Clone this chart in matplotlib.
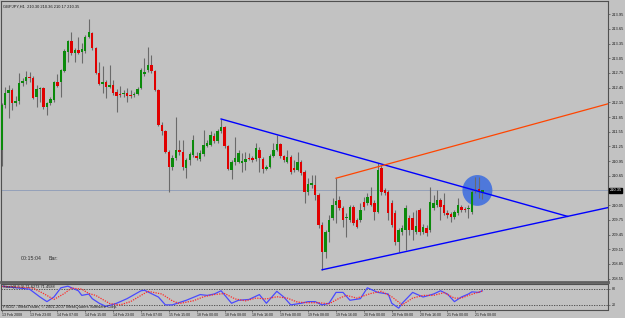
import matplotlib
matplotlib.use('Agg')
import matplotlib.pyplot as plt
from matplotlib.patches import Ellipse
import numpy as np

plt.rcParams['font.family'] = ['Liberation Sans', 'DejaVu Sans']

# GBPJPY H1, bar 0 = 13 Feb 2008 15:00
opens = [
    211.18, 212.09, 212.34, 212.40, 212.13, 212.17, 212.54, 212.58, 212.66, 212.64,
    212.26, 212.42, 212.44, 212.05, 212.13, 212.20, 212.56, 212.56, 212.79, 213.17,
    213.40, 213.15, 213.22, 213.17, 213.19, 213.48, 213.56, 213.26, 212.75, 212.52,
    212.56, 212.46, 212.50, 212.36, 212.32, 212.32, 212.34, 212.30, 212.30, 212.32,
    212.44, 212.73, 212.81, 212.91, 212.79, 212.40, 211.69, 211.56, 211.13, 210.83,
    211.01, 211.18, 211.13, 210.81, 210.97, 211.07, 211.05, 210.99, 211.09, 211.26,
    211.28, 211.46, 211.36, 211.56, 211.64, 211.26, 210.77, 210.93, 210.93, 210.91,
    210.93, 211.01, 211.01, 210.99, 211.18, 210.99, 210.79, 210.83, 211.05, 211.18,
    211.30, 211.05, 210.93, 211.03, 210.81, 210.77, 210.93, 210.73, 210.32, 210.46,
    210.46, 210.26, 209.64, 209.09, 209.50, 209.79, 210.05, 210.15, 209.99, 209.79,
    209.75, 210.01, 209.75, 209.75, 210.11, 210.09, 210.24, 210.09, 209.91, 210.81,
    210.36, 210.32, 210.09, 209.89, 209.30, 209.50, 209.54, 209.79, 209.79, 209.50,
    209.95, 209.50, 209.58, 209.54, 209.99, 210.05, 210.15, 210.05, 209.89, 209.87,
    209.81, 209.89, 210.01, 209.97, 209.97, 209.91, 210.34, 210.38, 210.30,
]
highs = [
    212.13, 212.46, 212.50, 212.44, 212.28, 212.75, 212.64, 212.79, 212.77, 212.69,
    212.50, 212.46, 212.46, 212.15, 212.26, 212.58, 212.73, 212.83, 213.24, 213.42,
    213.58, 213.26, 213.48, 213.36, 213.52, 213.85, 213.58, 213.28, 212.97, 212.89,
    212.60, 212.91, 212.60, 212.42, 212.48, 212.40, 212.44, 212.40, 212.36, 212.46,
    212.85, 213.05, 213.28, 213.11, 212.81, 212.42, 211.75, 211.58, 211.18, 211.07,
    211.85, 211.38, 211.38, 211.01, 211.13, 211.48, 211.13, 211.18, 211.58, 211.38,
    211.56, 211.52, 211.60, 211.81, 211.67, 211.28, 210.97, 211.44, 211.18, 211.11,
    211.13, 211.11, 211.05, 211.32, 211.24, 211.03, 210.87, 211.09, 211.32, 211.48,
    211.32, 211.07, 211.18, 211.07, 210.97, 211.13, 210.97, 210.77, 210.60, 210.66,
    210.66, 210.30, 209.71, 209.54, 209.85, 210.20, 210.60, 210.24, 210.03, 209.89,
    210.05, 210.05, 209.79, 210.09, 210.22, 210.30, 210.42, 210.15, 210.91, 210.87,
    210.40, 210.36, 210.15, 209.95, 209.58, 209.64, 210.05, 209.85, 209.91, 209.95,
    209.99, 209.67, 209.64, 210.42, 210.26, 210.36, 210.20, 210.30, 209.95, 209.91,
    209.95, 210.20, 210.05, 210.01, 210.05, 210.36, 210.62, 210.62, 210.36,
]
lows = [
    210.85, 212.03, 211.83, 211.99, 212.07, 212.11, 212.48, 212.52, 212.56, 212.22,
    212.05, 212.15, 212.01, 211.89, 212.09, 212.15, 212.46, 212.26, 212.77, 212.97,
    213.11, 212.97, 213.13, 212.95, 213.15, 213.46, 213.22, 212.73, 212.50, 212.34,
    212.24, 212.44, 212.30, 211.95, 212.26, 212.26, 212.15, 212.24, 212.26, 212.30,
    212.42, 212.69, 212.77, 212.75, 212.38, 211.67, 211.48, 211.11, 210.32, 210.77,
    210.97, 211.07, 210.77, 210.60, 210.87, 211.03, 210.97, 210.95, 211.05, 211.24,
    211.26, 211.32, 211.32, 211.52, 211.22, 210.77, 210.58, 210.87, 210.91, 210.73,
    210.77, 210.97, 210.93, 210.95, 210.73, 210.71, 210.77, 210.81, 211.03, 211.15,
    211.01, 210.93, 210.91, 210.69, 210.73, 210.75, 210.66, 210.09, 210.26, 210.40,
    210.15, 209.58, 208.73, 208.97, 209.30, 209.75, 209.69, 209.95, 209.60, 209.40,
    209.71, 209.64, 209.58, 209.71, 209.95, 210.05, 210.03, 209.75, 209.89, 210.26,
    210.26, 209.75, 209.60, 209.24, 209.09, 209.44, 209.13, 209.44, 209.34, 209.46,
    209.44, 209.46, 209.42, 209.50, 209.95, 210.01, 209.75, 209.85, 209.79, 209.71,
    209.77, 209.85, 209.91, 209.91, 209.79, 209.87, 210.30, 210.20, 210.17,
]
closes = [
    212.09, 212.34, 212.40, 212.13, 212.17, 212.54, 212.58, 212.66, 212.64, 212.24,
    212.42, 212.44, 212.05, 212.13, 212.22, 212.56, 212.48, 212.81, 213.19, 213.40,
    213.15, 213.22, 213.15, 213.24, 213.48, 213.58, 213.26, 212.75, 212.52, 212.56,
    212.46, 212.50, 212.34, 212.28, 212.31, 212.34, 212.28, 212.28, 212.32, 212.42,
    212.81, 212.77, 212.91, 212.79, 212.40, 211.69, 211.56, 211.13, 210.83, 211.01,
    211.18, 211.13, 210.83, 210.97, 211.09, 211.38, 211.01, 211.11, 211.28, 211.32,
    211.48, 211.36, 211.56, 211.64, 211.26, 210.79, 210.93, 211.01, 211.11, 210.95,
    210.99, 211.00, 210.97, 211.22, 211.01, 210.79, 210.83, 211.05, 211.18, 211.30,
    211.05, 210.97, 211.03, 210.73, 210.77, 210.93, 210.71, 210.32, 210.48, 210.50,
    210.26, 209.64, 209.09, 209.50, 209.75, 210.05, 210.13, 209.99, 209.75, 209.81,
    210.01, 209.69, 209.60, 209.95, 210.01, 210.22, 210.05, 209.91, 210.77, 210.32,
    210.30, 209.89, 209.64, 209.30, 209.54, 209.58, 209.99, 209.54, 209.54, 209.62,
    209.50, 209.60, 209.48, 210.11, 210.09, 210.15, 210.01, 209.89, 209.85, 209.81,
    209.91, 210.05, 209.95, 209.96, 209.97, 210.32, 210.36, 210.32, 210.35,
]

# Stochastic main (%K) and signal (%D)
stoch_k_bars = [0, 2, 8, 11, 13, 15, 17, 19, 22, 23, 25, 26, 28, 30, 33, 36, 40, 41, 45, 47,
                49, 53, 57, 59, 61, 63, 66, 68, 71, 74, 76, 79, 81, 83, 86, 88, 90, 92, 94, 96,
                98, 100, 103, 105, 108, 111, 112, 114, 115, 118, 121, 124, 126, 128, 130, 132,
                134, 135, 137, 138]
stoch_k = [89, 86, 78, 49, 32, 49, 83, 89, 72, 55, 60, 43, 26, 14, 26, 43, 72, 74, 49, 20,
           20, 37, 58, 55, 60, 72, 26, 37, 40, 58, 26, 70, 49, 20, 26, 32, 32, 20, 26, 66,
           66, 37, 43, 83, 66, 60, 26, 8, 26, 66, 49, 60, 72, 60, 32, 49, 60, 68, 66, 72]
stoch_d_bars = [0, 3, 9, 12, 15, 18, 20, 23, 25, 27, 29, 31, 34, 37, 40, 42, 46, 49, 51, 55,
                58, 61, 64, 67, 70, 73, 76, 79, 82, 85, 88, 91, 94, 97, 99, 102, 106, 109, 112,
                115, 118, 121, 124, 127, 130, 132, 134, 136, 138]
stoch_d = [88, 87, 82, 62, 40, 62, 82, 78, 62, 55, 40, 25, 20, 32, 55, 70, 60, 35, 25, 35,
           50, 58, 62, 42, 35, 45, 42, 50, 45, 30, 28, 28, 24, 45, 55, 45, 62, 70, 50,
           20, 45, 55, 55, 65, 45, 45, 55, 63, 71]

# trend lines drawn on the chart (bar index, price)
upper_line_bars = [63, 162.5]
upper_line_prices = [211.81, 209.82]
lower_line_bars = [92, 174.1]
lower_line_prices = [208.73, 210.00]
orange_line_bars = [96, 174.1]
orange_line_prices = [210.60, 212.12]

price_ticks = [213.95, 213.65, 213.35, 213.05, 212.75, 212.45, 212.15, 211.85, 211.55,
               211.25, 210.95, 210.65, 210.05, 209.75, 209.45, 209.15, 208.85, 208.55]
last_price = 210.35

date_bars = [0, 8, 16, 24, 32, 40, 48, 56, 64, 72, 80, 88, 96, 104, 112, 120, 128, 136]
date_labels = ['13 Feb 2008', '13 Feb 23:00', '14 Feb 07:00', '14 Feb 15:00', '14 Feb 23:00',
               '15 Feb 07:00', '15 Feb 15:00', '18 Feb 00:00', '18 Feb 08:00', '18 Feb 16:00',
               '19 Feb 00:00', '19 Feb 08:00', '19 Feb 16:00', '20 Feb 00:00', '20 Feb 08:00',
               '20 Feb 16:00', '21 Feb 00:00', '21 Feb 08:00']

BG = '#c2c2c2'
FRAME = '#505050'
TXT = '#1a1a1a'
W, H = 625, 318

fig = plt.figure(figsize=(W / 100, H / 100), dpi=100, facecolor=BG)
ax = fig.add_axes([1 / W, 1 - 282 / H, 607 / W, 281 / H], facecolor=BG)
ax2 = fig.add_axes([1 / W, 1 - 309.5 / H, 607 / W, 25.5 / H], facecolor=BG)

o = np.array(opens)
c = np.array(closes)
x = np.arange(len(o))
up = c >= o
body_lo = np.minimum(o, c)
body_h = np.maximum(np.abs(c - o), 0.012)
colors = np.where(up, '#0b8a0b', '#e00000')

ax.axhline(last_price, color='#8d9bb8', lw=0.6, zorder=1)
ax.add_patch(Ellipse((136.6, 210.35), 8.6, 0.63, color='#3a6be0', alpha=0.85, lw=0, zorder=1.5))
ax.vlines(x, lows, highs, color='#6a6a6a', lw=0.8, zorder=2)
ax.bar(x, body_h, bottom=body_lo, width=0.7, color=colors, lw=0, zorder=3)

ax.plot(upper_line_bars, upper_line_prices, color='#0000ff', lw=1.0, zorder=4)
ax.plot(lower_line_bars, lower_line_prices, color='#0000ff', lw=1.0, zorder=4)
ax.plot(orange_line_bars, orange_line_prices, color='#ff4500', lw=0.9, zorder=4)

ax.set_xlim(-0.2, 174.1)
ax.set_ylim(208.48, 214.22)
ax.set_xticks([])
ax.yaxis.tick_right()
ax.set_yticks(price_ticks)
ax.set_yticklabels([f'{p:.2f}' for p in price_ticks])
ax.tick_params(axis='y', labelsize=2.9, length=1.5, width=0.5, pad=1.2,
               colors=FRAME, labelcolor=TXT)
ax.text(1.0025, last_price, f'{last_price:.2f}', transform=ax.get_yaxis_transform(),
        fontsize=2.9, color='white', va='center', ha='left',
        bbox=dict(boxstyle='square,pad=0.15', fc='black', ec='black'))

for s in ax.spines.values():
    s.set_color(FRAME)
    s.set_linewidth(0.8)
ax.spines['bottom'].set_linewidth(2.0)
ax.spines['bottom'].set_color('#606060')

ax.text(0.004, 0.988, 'GBPJPY,H1  210.30 210.36 210.17 210.35', transform=ax.transAxes,
        fontsize=2.9, color=TXT, va='top', ha='left')
ax.text(0.033, 0.085, '00:15:04', transform=ax.transAxes, fontsize=3.8, color='#303030',
        va='center', ha='left')
ax.text(0.079, 0.085, 'Bar:', transform=ax.transAxes, fontsize=3.8, color='#303030',
        va='center', ha='left')

# Stochastic window
ax2.axhline(80, color='#404040', lw=0.6, ls=(0, (1.5, 1.5)))
ax2.axhline(20, color='#404040', lw=0.6, ls=(0, (1.5, 1.5)))
ax2.plot(stoch_k_bars, stoch_k, color='#4a4aff', lw=0.9)
ax2.plot(stoch_d_bars, stoch_d, color='#ff2a2a', lw=0.9, ls=(0, (1, 1)))
ax2.set_xlim(-0.2, 174.1)
ax2.set_ylim(3, 97)
ax2.yaxis.tick_right()
ax2.set_yticks([80, 20])
ax2.set_yticklabels(['80', '20'])
ax2.set_xticks(date_bars)
ax2.set_xticklabels(date_labels, ha='left')
ax2.tick_params(axis='x', labelsize=2.5, length=1.5, width=0.5, pad=1, colors=FRAME,
                labelcolor=TXT)
ax2.tick_params(axis='y', labelsize=2.6, length=1.5, width=0.5, pad=1.2, colors=FRAME,
                labelcolor=TXT)
for s in ax2.spines.values():
    s.set_color(FRAME)
    s.set_linewidth(0.8)
ax2.text(0.004, 0.97, 'Stoch(8,3,3) 71.6273 71.4588', transform=ax2.transAxes,
         fontsize=2.8, color=TXT, va='top', ha='left')
ax2.text(0.004, 0.03, 'FXDD - MetaTrader, \u00a9 2001-2007 MetaQuotes Software Corp.',
         transform=ax2.transAxes, fontsize=3.0, color=TXT, va='bottom', ha='left')

fig.savefig('out.png', dpi=100, facecolor=BG)
